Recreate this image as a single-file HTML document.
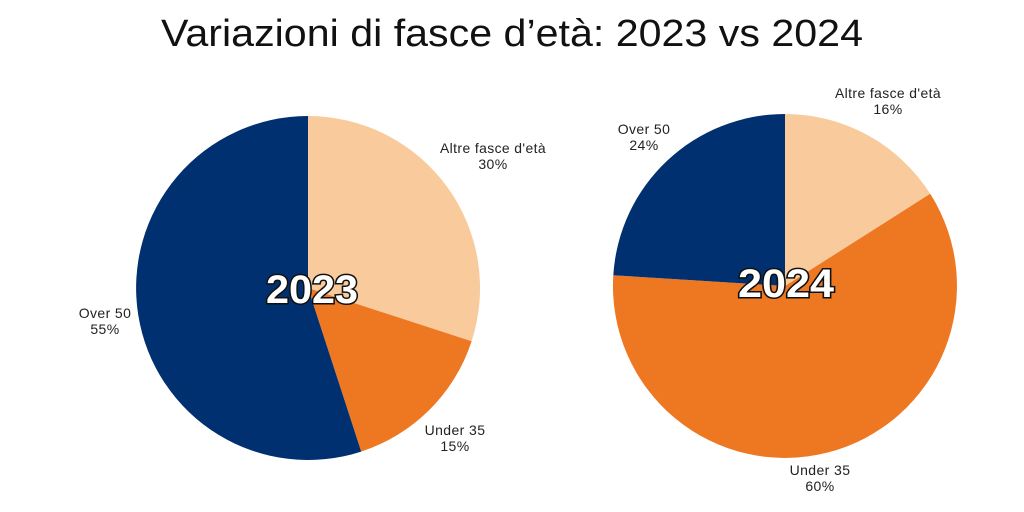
<!DOCTYPE html>
<html><head><meta charset="utf-8"><style>
html,body{margin:0;padding:0;background:#fff;}
svg{display:block;font-family:"Liberation Sans",sans-serif;}
</style></head><body>
<svg width="1024" height="512" viewBox="0 0 1024 512" xmlns="http://www.w3.org/2000/svg">
<rect width="1024" height="512" fill="#fff"/>
<text x="512" y="46" text-anchor="middle" font-size="38" fill="#111" textLength="702" lengthAdjust="spacingAndGlyphs">Variazioni di fasce d’età: 2023 vs 2024</text>
<g>
<path d="M308,288 L308,116 A172,172 0 0 1 471.6,341.2 Z" fill="#F9CB9C"/>
<path d="M308,288 L471.6,341.2 A172,172 0 0 1 361.2,451.6 Z" fill="#EE7722"/>
<path d="M308,288 L361.2,451.6 A172,172 0 1 1 308,116 Z" fill="#003070"/>
</g>
<g>
<path d="M785,286 L785,114 A172,172 0 0 1 930.2,193.8 Z" fill="#F9CB9C"/>
<path d="M785,286 L930.2,193.8 A172,172 0 1 1 613.3,275.2 Z" fill="#EE7722"/>
<path d="M785,286 L613.3,275.2 A172,172 0 0 1 785,114 Z" fill="#003070"/>
</g>
<g font-size="14" fill="#222" text-anchor="middle" letter-spacing="0.4">
<text x="493" y="153" textLength="106" lengthAdjust="spacingAndGlyphs">Altre fasce d'età</text><text x="493" y="169">30%</text>
<text x="105" y="318">Over 50</text><text x="105" y="334">55%</text>
<text x="455" y="435">Under 35</text><text x="455" y="451">15%</text>
<text x="888" y="98" textLength="106" lengthAdjust="spacingAndGlyphs">Altre fasce d'età</text><text x="888" y="114">16%</text>
<text x="644" y="134">Over 50</text><text x="644" y="150">24%</text>
<text x="820" y="475">Under 35</text><text x="820" y="491">60%</text>
</g>
<g font-size="40" font-weight="bold" fill="#fff" stroke="#111" stroke-width="3" paint-order="stroke" text-anchor="middle">
<text x="312" y="303" textLength="92" lengthAdjust="spacingAndGlyphs">2023</text>
<text x="786" y="297" textLength="96" lengthAdjust="spacingAndGlyphs">2024</text>
</g>
</svg>
</body></html>
